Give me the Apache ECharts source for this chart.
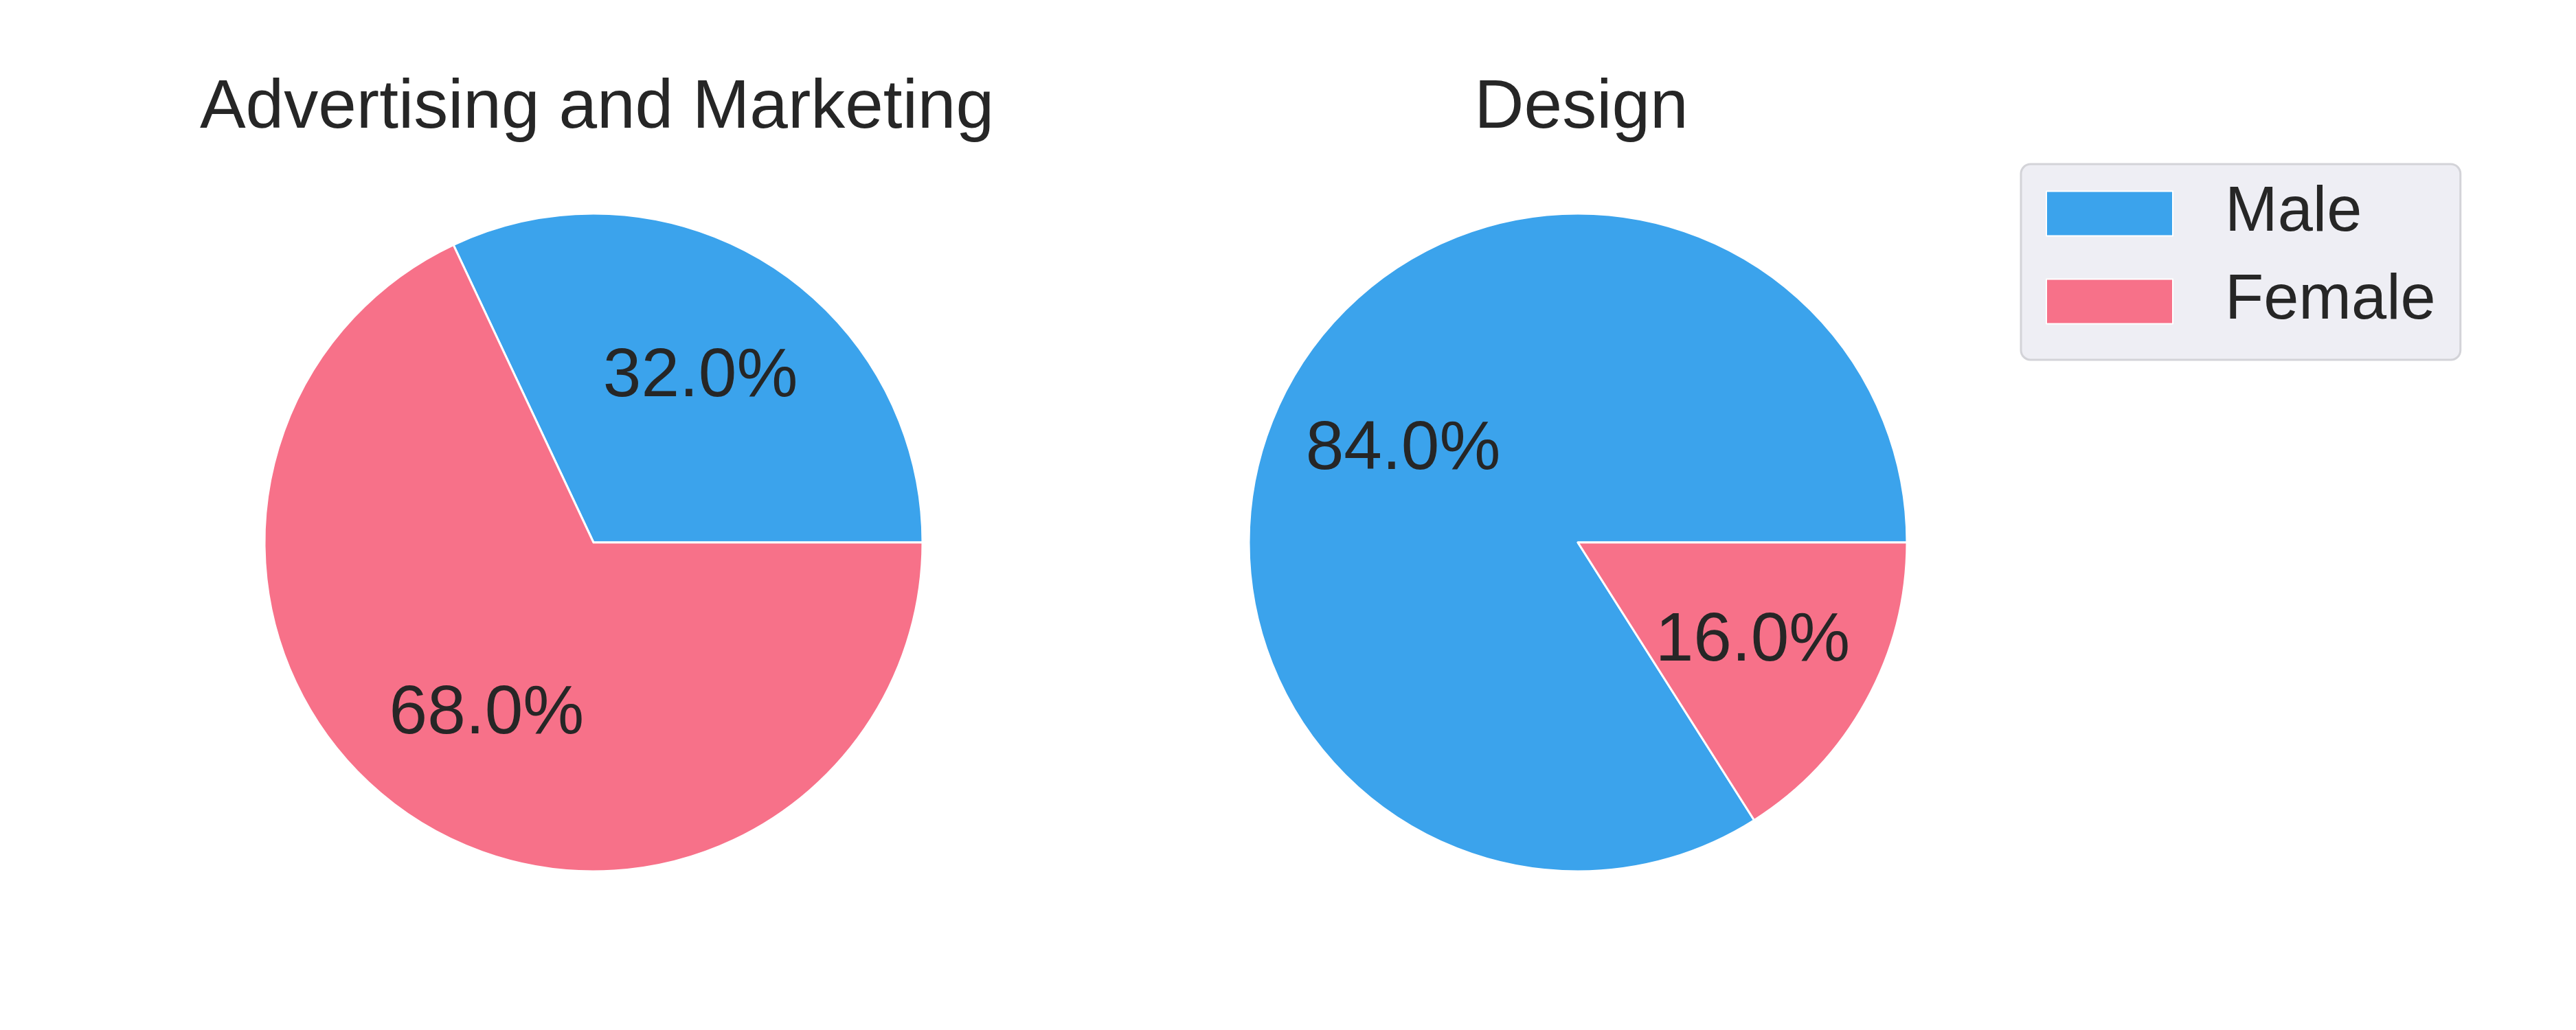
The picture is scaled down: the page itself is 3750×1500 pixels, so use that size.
<!DOCTYPE html>
<html>
<head>
<meta charset="utf-8">
<script src="https://cdn.jsdelivr.net/npm/echarts@6/dist/echarts.min.js"></script>
<style>
html,body{margin:0;padding:0;background:#fff;}
#chart{width:3750px;height:1500px;}
</style>
</head>
<body>
<div id="chart"></div>
<script>
const genders = ['Male', 'Female'];
const panelTitles = ['Advertising and Marketing', 'Design'];
const advertisingValues = [32.0, 68.0];
const designValues = [84.0, 16.0];
const colors = ['#3BA3EC', '#F77189'];

const FONT = '"Liberation Sans", Arial, "DejaVu Sans", sans-serif';
const TEXT = '#262626';
const centers = [[864, 790], [2297, 790]];
const R = 479;
const panelValues = [advertisingValues, designValues];

function dataFor(vals) {
  return genders.map((g, i) => ({ name: g, value: vals[i], itemStyle: { color: colors[i] } }));
}

const series = [];
panelValues.forEach((vals, p) => {
  series.push({
    type: 'pie', center: centers[p], radius: [0, R],
    startAngle: 0, clockwise: false, minAngle: 0,
    avoidLabelOverlap: false, silent: true,
    label: { show: false }, labelLine: { show: false },
    itemStyle: { borderColor: '#ffffff', borderWidth: 3 },
    emphasis: { disabled: true },
    data: dataFor(vals)
  });
});
panelValues.forEach((vals, p) => {
  series.push({
    type: 'pie', center: centers[p], radius: [0.2 * R, R],
    startAngle: 0, clockwise: false,
    avoidLabelOverlap: false, silent: true,
    itemStyle: { color: 'transparent', borderWidth: 0 },
    emphasis: { disabled: true },
    label: {
      show: true, position: 'inside',
      formatter: (p) => p.value.toFixed(1) + '%',
      fontFamily: FONT, fontSize: 100, color: TEXT,
      offset: [0, 5]
    },
    labelLine: { show: false },
    data: genders.map((g, i) => ({ name: g, value: vals[i] }))
  });
});

const chart = echarts.init(document.getElementById('chart'));
chart.setOption({
  animation: false,
  backgroundColor: '#ffffff',
  title: panelTitles.map((t, p) => ({
    text: t, left: centers[p][0], top: 103, textAlign: 'center',
    textStyle: { fontFamily: FONT, fontSize: 100, fontWeight: 'normal', color: TEXT }
  })),
  legend: {
    data: genders, orient: 'vertical', left: 2942, top: 239,
    icon: 'rect', itemWidth: 184, itemHeight: 65, itemGap: 36,
    padding: [26, 36, 39, 36],
    backgroundColor: '#EEEEF4', borderColor: '#D3D3D8', borderWidth: 3, borderRadius: 14,
    selectedMode: false,
    textStyle: { fontFamily: FONT, fontSize: 92, color: TEXT, padding: [0, 0, 0, 71], lineHeight: 65 }
  },
  series: series
});
</script>
</body>
</html>
